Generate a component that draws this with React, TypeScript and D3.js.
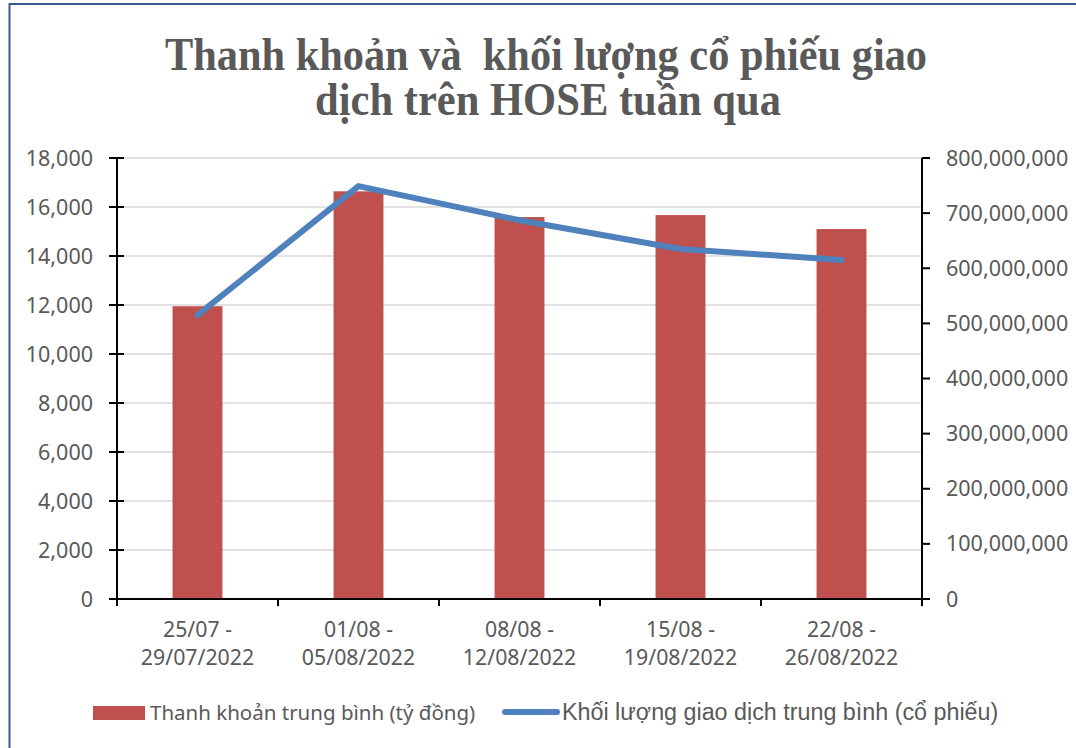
import React, { useRef, useEffect } from "react";
import * as d3 from "d3";

const categories = [
  ["25/07 -", "29/07/2022"],
  ["01/08 -", "05/08/2022"],
  ["08/08 -", "12/08/2022"],
  ["15/08 -", "19/08/2022"],
  ["22/08 -", "26/08/2022"],
];
const liquidity = [11950, 16640, 15590, 15670, 15100];
const volume = [515000000, 749000000, 687000000, 635000000, 615000000];
const leftTicks = [0, 2000, 4000, 6000, 8000, 10000, 12000, 14000, 16000, 18000];
const rightTicks = [0, 100e6, 200e6, 300e6, 400e6, 500e6, 600e6, 700e6, 800e6];
const titleLines = ["Thanh khoản và  khối lượng cổ phiếu giao", "dịch trên HOSE tuần qua"];
const legendLabels = ["Thanh khoản trung bình (tỷ đồng)", "Khối lượng giao dịch trung bình (cổ phiếu)"];

const W = 1076;
const H = 748;

const App = () => {
  const ref = useRef<SVGSVGElement>(null);

  useEffect(() => {
    if (!ref.current) return;
    const svg = d3.select(ref.current);
    svg.selectAll("*").remove();

    const left = 117;
    const right = 922;
    const top = 158;
    const bottom = 599;
    const grey = "#595959";
    const sans = "'Noto Sans', sans-serif";

    // frame
    svg
      .append("rect")
      .attr("x", 9.5)
      .attr("y", 4)
      .attr("width", W + 20)
      .attr("height", H + 20)
      .attr("fill", "#fff")
      .attr("stroke", "#3b5b8c")
      .attr("stroke-width", 2);

    // title
    const titleX = [165, 315];
    const titleWidths = [762, 466];
    titleLines.forEach((t, i) => {
      svg
        .append("text")
        .attr("x", titleX[i])
        .attr("y", 70 + i * 45)
        .attr("text-anchor", "start")
        .attr("xml:space", "preserve")
        .style("white-space", "pre")
        .attr("font-family", "'Liberation Serif', serif")
        .attr("font-weight", "bold")
        .attr("font-size", 47)
        .attr("fill", grey)
        .attr("textLength", titleWidths[i])
        .attr("lengthAdjust", "spacingAndGlyphs")
        .text(t);
    });

    const x = d3
      .scaleBand<number>()
      .domain(d3.range(categories.length))
      .range([left, right])
      .paddingInner(0.69)
      .paddingOuter(0.345);
    const xb = d3.scaleBand<number>().domain(d3.range(categories.length)).range([left, right]);
    const yL = d3.scaleLinear().domain([0, 18000]).range([bottom, top]);
    const yR = d3.scaleLinear().domain([0, 800e6]).range([bottom, top]);

    // grid
    svg
      .append("g")
      .selectAll("line")
      .data(leftTicks.filter((d) => d > 0))
      .enter()
      .append("line")
      .attr("x1", left)
      .attr("x2", right)
      .attr("y1", (d) => yL(d))
      .attr("y2", (d) => yL(d))
      .attr("stroke", "#d9d9d9")
      .attr("stroke-width", 1.5);

    // bars
    svg
      .append("g")
      .selectAll("rect")
      .data(liquidity)
      .enter()
      .append("rect")
      .attr("x", (_, i) => x(i)!)
      .attr("width", x.bandwidth())
      .attr("y", (d) => yL(d))
      .attr("height", (d) => bottom - yL(d))
      .attr("fill", "#c0504d");

    // line
    const line = d3
      .line<number>()
      .x((_, i) => xb(i)! + xb.bandwidth() / 2)
      .y((d) => yR(d));
    svg
      .append("path")
      .datum(volume)
      .attr("d", line)
      .attr("fill", "none")
      .attr("stroke", "#4f81bd")
      .attr("stroke-width", 6)
      .attr("stroke-linejoin", "round")
      .attr("stroke-linecap", "round");

    // left axis
    const gL = svg.append("g");
    gL.append("line")
      .attr("x1", left)
      .attr("x2", left)
      .attr("y1", top)
      .attr("y2", bottom + 6)
      .attr("stroke", "#000")
      .attr("stroke-width", 2);
    leftTicks.forEach((t) => {
      gL.append("line")
        .attr("x1", left - 8)
        .attr("x2", left + 7)
        .attr("y1", yL(t))
        .attr("y2", yL(t))
        .attr("stroke", "#000")
        .attr("stroke-width", 2);
      gL.append("text")
        .attr("x", 93)
        .attr("y", yL(t))
        .attr("dy", "0.35em")
        .attr("text-anchor", "end")
        .attr("font-family", sans)
        .attr("font-size", 21.5)
        .attr("fill", grey)
        .text(d3.format(",")(t));
    });

    // right axis
    const gR = svg.append("g");
    gR.append("line")
      .attr("x1", right)
      .attr("x2", right)
      .attr("y1", top)
      .attr("y2", bottom + 6)
      .attr("stroke", "#000")
      .attr("stroke-width", 2);
    rightTicks.forEach((t) => {
      gR.append("line")
        .attr("x1", right)
        .attr("x2", right + 8)
        .attr("y1", yR(t))
        .attr("y2", yR(t))
        .attr("stroke", "#000")
        .attr("stroke-width", 2);
      gR.append("text")
        .attr("x", 946)
        .attr("y", yR(t))
        .attr("dy", "0.35em")
        .attr("text-anchor", "start")
        .attr("font-family", sans)
        .attr("font-size", 21.5)
        .attr("fill", grey)
        .text(d3.format(",")(t));
    });

    // bottom axis
    const gB = svg.append("g");
    gB.append("line")
      .attr("x1", left)
      .attr("x2", right)
      .attr("y1", bottom)
      .attr("y2", bottom)
      .attr("stroke", "#000")
      .attr("stroke-width", 2);
    d3.range(categories.length + 1).forEach((i) => {
      const px = i < categories.length ? xb(i)! : right;
      gB.append("line")
        .attr("x1", px)
        .attr("x2", px)
        .attr("y1", bottom)
        .attr("y2", bottom + 7)
        .attr("stroke", "#000")
        .attr("stroke-width", 2);
    });
    categories.forEach((c, i) => {
      const cx = xb(i)! + xb.bandwidth() / 2;
      c.forEach((s, j) => {
        gB.append("text")
          .attr("x", cx)
          .attr("y", 637 + j * 28)
          .attr("text-anchor", "middle")
          .attr("font-family", sans)
          .attr("font-size", 21.3)
          .attr("fill", grey)
          .text(s);
      });
    });

    // legend
    const lg = svg.append("g");
    lg.append("rect")
      .attr("x", 93)
      .attr("y", 706)
      .attr("width", 52)
      .attr("height", 14)
      .attr("fill", "#c0504d");
    lg.append("text")
      .attr("x", 150)
      .attr("y", 720)
      .attr("font-family", sans)
      .attr("font-size", 20.5)
      .attr("fill", grey)
      .text(legendLabels[0]);
    lg.append("line")
      .attr("x1", 505)
      .attr("x2", 557)
      .attr("y1", 712)
      .attr("y2", 712)
      .attr("stroke", "#4f81bd")
      .attr("stroke-width", 6)
      .attr("stroke-linecap", "round");
    lg.append("text")
      .attr("x", 562)
      .attr("y", 720)
      .attr("font-family", "'Liberation Sans', Arial, sans-serif")
      .attr("font-size", 23.3)
      .attr("fill", grey)
      .text(legendLabels[1]);
  }, []);

  return (
    <svg
      ref={ref}
      width={W}
      height={H}
      style={{ position: "absolute", left: 0, top: 0, display: "block" }}
    ></svg>
  );
};

export default App;
